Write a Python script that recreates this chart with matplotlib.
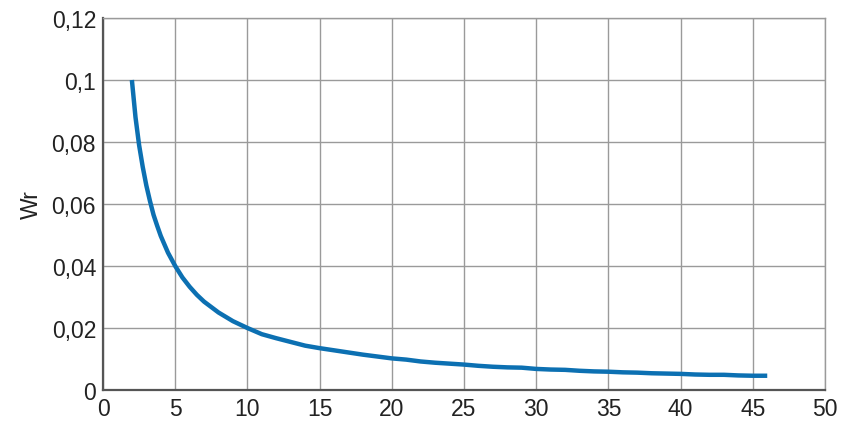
import matplotlib
matplotlib.use("Agg")
import matplotlib.pyplot as plt

x_vals = [2, 2.25, 2.5, 2.75, 3, 3.25, 3.5, 3.75, 4, 4.5, 5, 5.5, 6, 6.5, 7, 8, 9, 10,
          11, 12, 13, 14, 15, 16, 17, 18, 19, 20, 21, 22, 23, 24, 25, 26, 27, 28,
          29, 30, 31, 32, 33, 34, 35, 36, 37, 38, 39, 40, 41, 42, 43, 44, 45, 46]
wr_vals = [0.1, 0.088, 0.079, 0.072, 0.066, 0.061, 0.0565, 0.053, 0.0497, 0.0443,
           0.04, 0.0363, 0.0333, 0.0307, 0.0285, 0.025, 0.0222, 0.02, 0.018,
           0.0167, 0.0155, 0.0143, 0.0135, 0.0128, 0.0121, 0.0114, 0.0108, 0.0102,
           0.0098, 0.0092, 0.0088, 0.0085, 0.0082, 0.0078, 0.0075, 0.0073, 0.0072,
           0.0068, 0.0066, 0.0065, 0.0062, 0.0060, 0.0059, 0.0057, 0.0056, 0.0054,
           0.0053, 0.0052, 0.0050, 0.0049, 0.0049, 0.0047, 0.0046, 0.0046]
x_ticks = [0, 5, 10, 15, 20, 25, 30, 35, 40, 45, 50]
y_ticks = [0, 0.02, 0.04, 0.06, 0.08, 0.1, 0.12]
y_tick_labels = ["0", "0,02", "0,04", "0,06", "0,08", "0,1", "0,12"]

plt.rcParams['font.family'] = ['Liberation Sans', 'DejaVu Sans']
fig = plt.figure(figsize=(8.51, 4.31), dpi=100)
ax = fig.add_axes([103/851, 1 - 391/431, (825-103)/851, (391-19)/431])
ax.plot(x_vals, wr_vals, color="#0c70b2", linewidth=3.2, solid_capstyle="butt",
        solid_joinstyle="round")
ax.set_xlim(0, 50)
ax.set_ylim(0, 0.12)
ax.set_xticks(x_ticks)
ax.set_xticklabels([str(t) for t in x_ticks])
ax.set_yticks(y_ticks)
ax.set_yticklabels(y_tick_labels)
ax.grid(True, color="#9a9a9a", linewidth=1.0)
ax.set_axisbelow(True)
ax.tick_params(length=0, labelsize=16.5, colors="#222222", pad=5)
for s in ["top", "right"]:
    ax.spines[s].set_color("#9a9a9a")
    ax.spines[s].set_linewidth(1.0)
for s in ["left", "bottom"]:
    ax.spines[s].set_color("#555555")
    ax.spines[s].set_linewidth(1.6)
ax.set_ylabel("Wr", fontsize=16.5, color="#222222", labelpad=6)
fig.savefig("out.png", dpi=100)
